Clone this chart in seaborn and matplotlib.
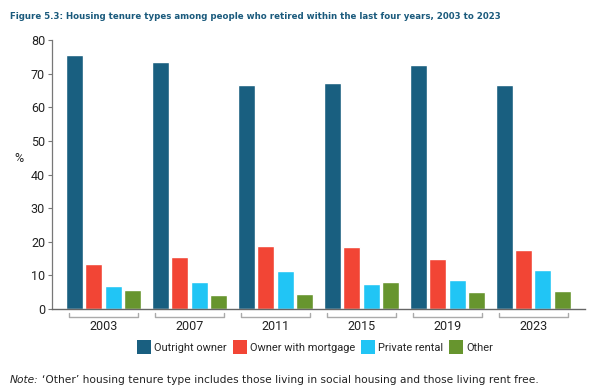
import matplotlib
matplotlib.use("Agg")
import matplotlib.pyplot as plt
import seaborn as sns
import pandas as pd
from matplotlib.patches import Patch
import matplotlib.transforms as mtransforms

years = ["2003", "2007", "2011", "2015", "2019", "2023"]
tenure_types = ["Outright owner", "Owner with mortgage", "Private rental", "Other"]
outright_owner = [75.5, 73.5, 66.7, 67.2, 72.6, 66.7]
owner_with_mortgage = [13.4, 15.5, 18.8, 18.4, 14.8, 17.5]
private_rental = [6.8, 8.0, 11.3, 7.4, 8.6, 11.6]
other = [5.7, 4.2, 4.5, 8.0, 5.1, 5.4]
colors = ["#195f80", "#f24535", "#21c5f5", "#67952e"]

series = [outright_owner, owner_with_mortgage, private_rental, other]
rows = []
for t, vals in zip(tenure_types, series):
    for y, v in zip(years, vals):
        rows.append({"Year": y, "Type": t, "Value": v})
df = pd.DataFrame(rows)

sns.set_style("white")
plt.rcParams["font.family"] = ["Roboto", "DejaVu Sans"]

fig = plt.figure(figsize=(5.89, 3.89), dpi=100)
ax = fig.add_axes([0.0883, 0.2057, 0.9047, 0.6913])

sns.barplot(data=df, x="Year", y="Value", hue="Type", hue_order=tenure_types,
            order=years, palette=colors, width=0.9, gap=0.12, saturation=1,
            legend=False, ax=ax)

ax.set_xlim(-0.6, 5.6)
ax.set_ylim(0, 80)
ax.set_yticks(range(0, 81, 10))
ax.set_xlabel("")
ax.set_ylabel("%", rotation=0, fontsize=9, color="#222222", va="center", ha="center")
ax.yaxis.set_label_coords(-0.063, 0.56)

for s in ["top", "right"]:
    ax.spines[s].set_visible(False)
ax.spines["left"].set_color("#777777")
ax.spines["bottom"].set_color("#666666")
ax.spines["left"].set_linewidth(0.9)
ax.spines["bottom"].set_linewidth(1.0)

ax.tick_params(axis="y", length=3, width=0.8, color="#777777", labelsize=9,
               labelcolor="#222222", pad=2, left=True)
ax.tick_params(axis="x", length=0, labelsize=9, labelcolor="#222222", pad=8)

# group brackets below the axis
trans = mtransforms.blended_transform_factory(ax.transData, ax.transAxes)
for i in range(len(years)):
    x0, x1 = i - 0.4, i + 0.4
    ax.plot([x0, x0, x1, x1], [-0.015, -0.03, -0.03, -0.015], transform=trans,
            color="#aaaaaa", lw=1.0, clip_on=False)

handles = [Patch(facecolor=c, edgecolor="none") for c in colors]
fig.legend(handles, tenure_types, loc="center", bbox_to_anchor=(0.535, 0.108),
           ncol=4, frameon=False, fontsize=7.9, handlelength=1.3, handleheight=1.6,
           handletextpad=0.3, columnspacing=0.5, borderaxespad=0)

fig.canvas.draw()
renderer = fig.canvas.get_renderer()

def fit_text(x, y, s, width_px, size, **kw):
    t = fig.text(x, y, s, fontsize=size, **kw)
    w = t.get_window_extent(renderer).width
    t.set_fontsize(size * width_px / w)
    return t

fit_text(0.017, 0.958,
         "Figure 5.3: Housing tenure types among people who retired within the last four years, 2003 to 2023",
         487, 8, fontweight="bold", color="#1a5a7c", va="center", ha="left",
         family=["DejaVu Sans"])

t1 = fig.text(0.017, 0.023, "Note:", fontsize=8, style="italic", color="#222222",
              va="center", ha="left", family=["DejaVu Sans"])
t2 = fig.text(0.0, 0.023,
              "\u2018Other\u2019 housing tenure type includes those living in social housing and those living rent free.",
              fontsize=8, color="#222222", va="center", ha="left", family=["DejaVu Sans"])
total = (t1.get_window_extent(renderer).width + 3 + t2.get_window_extent(renderer).width)
scale = 527 / total
t1.set_fontsize(8 * scale)
t2.set_fontsize(8 * scale)
fig.canvas.draw()
bb = t1.get_window_extent(renderer)
t2.set_x((bb.x1 + 3) / fig.bbox.width)

fig.savefig("out.png", dpi=100)
